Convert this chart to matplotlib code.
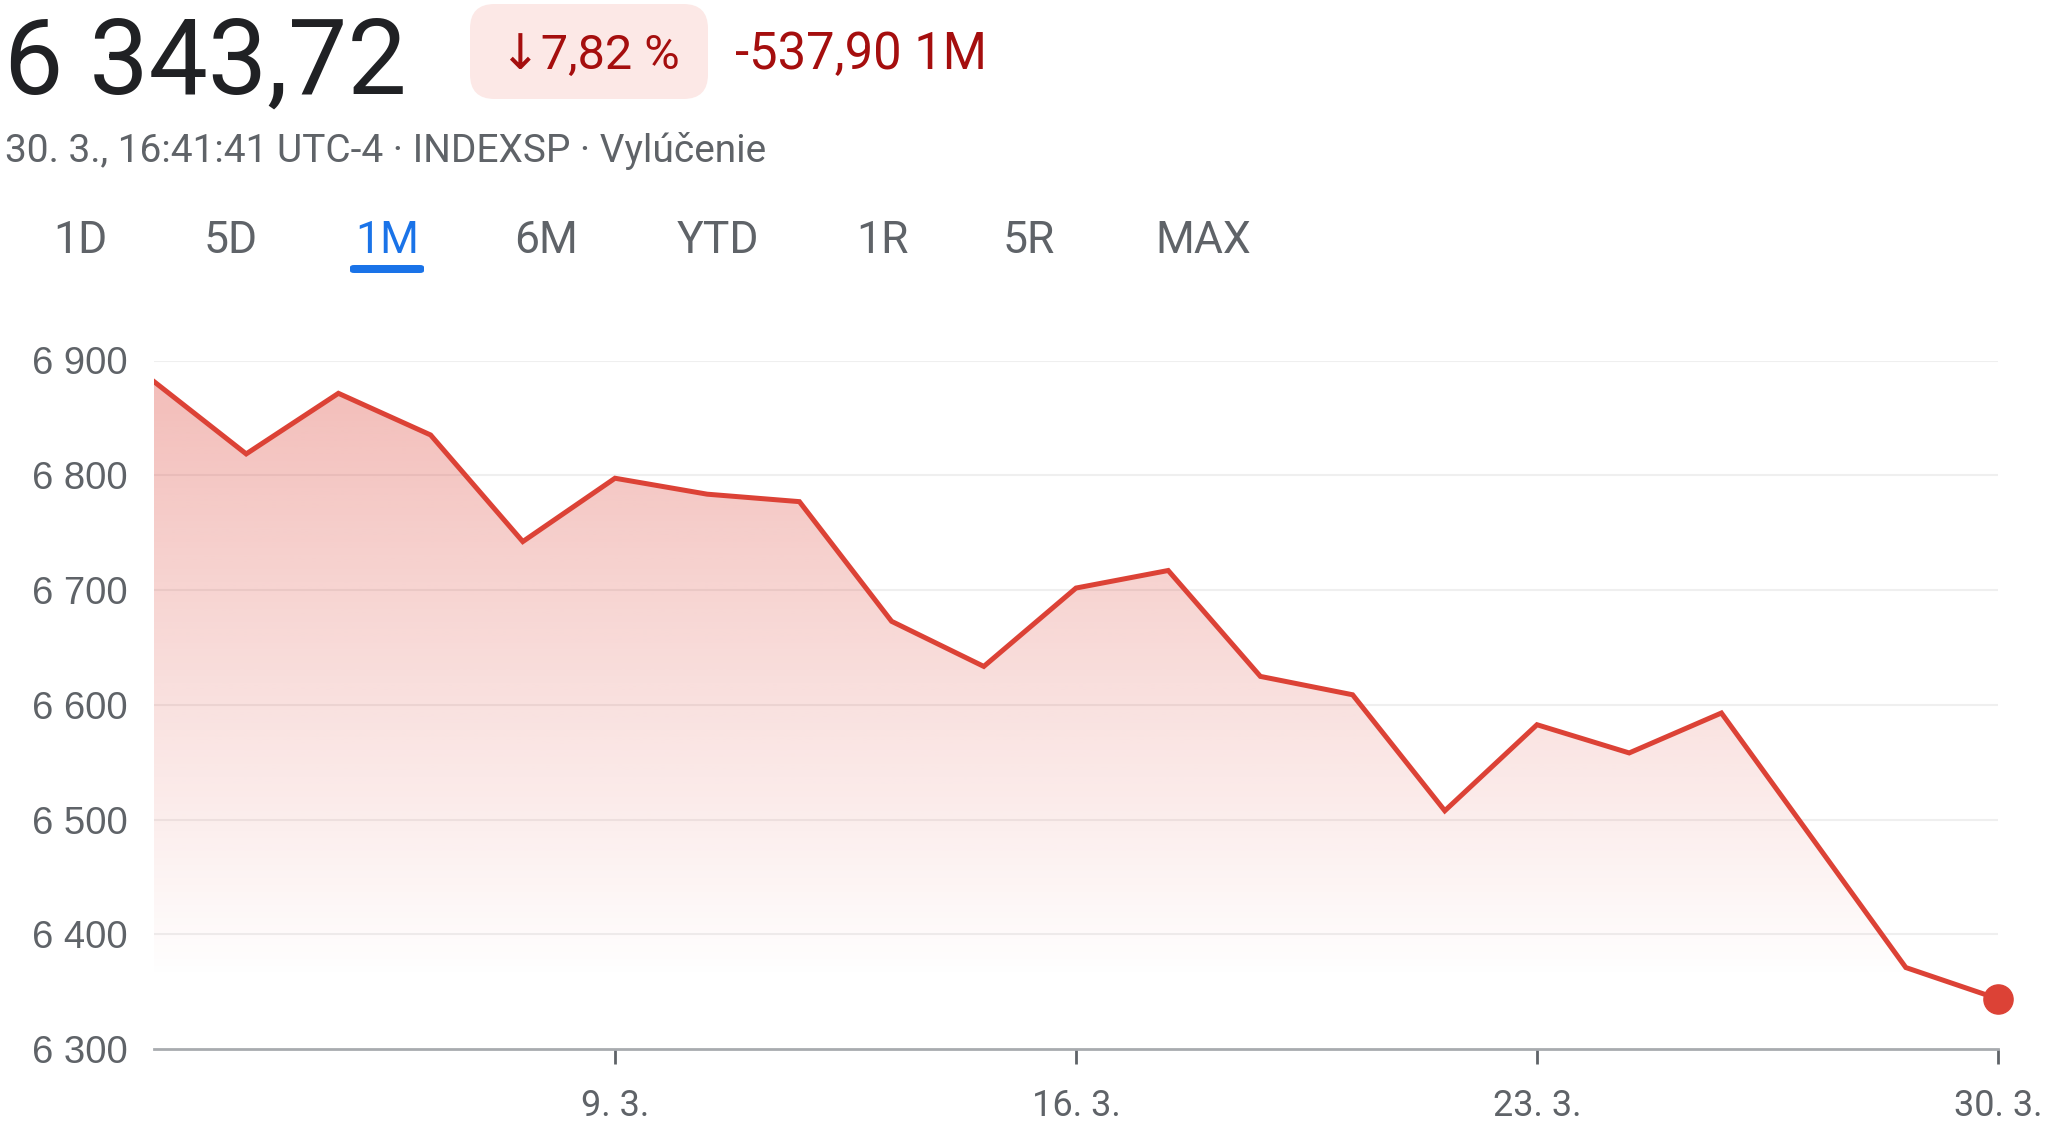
"""Recreate the 1M index chart (Slovak locale quote panel) as out.png."""

import matplotlib
matplotlib.use("Agg")
import matplotlib.pyplot as plt
import numpy as np
from matplotlib.patches import FancyBboxPatch, Polygon
from matplotlib.colors import to_rgb

W, H = 2048, 1144

# trading days 2.3. .. 30.3.
day_index = list(range(21))
close_values = [
    6881.62, 6818.6, 6871.4, 6835.1, 6742.2,
    6797.4, 6783.5, 6777.0, 6672.7, 6633.4,
    6701.7, 6717.0, 6624.7, 6608.7, 6507.6,
    6582.6, 6558.0, 6592.8, 6482.0, 6371.0,
    6343.72,
]
tick_positions = [5, 10, 15, 20]
tick_labels = ["9. 3.", "16. 3.", "23. 3.", "30. 3."]
y_ticks = [6300, 6400, 6500, 6600, 6700, 6800, 6900]
y_tick_labels = ["6 300", "6 400", "6 500", "6 600", "6 700", "6 800", "6 900"]

price_text = "6 343,72"
pct_text = "\u21937,82 %"
change_text = "-537,90 1M"
subtitle_text = "30. 3., 16:41:41 UTC-4 \u00b7 INDEXSP \u00b7 Vylúčenie"
tabs = ["1D", "5D", "1M", "6M", "YTD", "1R", "5R", "MAX"]
active_tab = "1M"

RED = "#DC4236"
DARK_RED = "#A50E0E"
TEXT = "#202124"
GRAY = "#5F6368"
BLUE = "#1A73E8"
SANS = ["Roboto", "DejaVu Sans"]


def fx(px):
    return px / W


def fy(py):
    return 1 - py / H


def draw_header(fig):
    fig.text(fx(4), fy(94), price_text, fontsize=76, color=TEXT,
             family=SANS, va="baseline", ha="left")

    badge = FancyBboxPatch((fx(470), fy(99)), fx(238), 95 / H,
                           boxstyle="round,pad=0,rounding_size=0.012",
                           transform=fig.transFigure, facecolor="#FCE8E6",
                           edgecolor="none", mutation_aspect=W / H)
    fig.patches.append(badge)
    fig.text(fx(590), fy(69), pct_text, fontsize=35, color=DARK_RED,
             family=SANS, va="baseline", ha="center")
    fig.text(fx(735), fy(69), change_text, fontsize=36.5, color=DARK_RED,
             family=SANS, va="baseline", ha="left")

    fig.text(fx(5), fy(162), subtitle_text, fontsize=28, color=GRAY,
             family=SANS, va="baseline", ha="left")

    tab_x = [80, 231, 387, 546, 718, 882, 1029, 1203]
    for label, x in zip(tabs, tab_x):
        color = BLUE if label == active_tab else GRAY
        fig.text(fx(x), fy(253), label, fontsize=32, color=color,
                 family=SANS, va="baseline", ha="center")
        if label == active_tab:
            bar = FancyBboxPatch((fx(x - 37), fy(273)), fx(74), 8 / H,
                                 boxstyle="round,pad=0,rounding_size=0.002",
                                 transform=fig.transFigure, facecolor=BLUE,
                                 edgecolor="none")
            fig.patches.append(bar)


def draw_chart(fig):
    ax = fig.add_axes([fx(154), fy(1049), fx(1998 - 154), (1049 - 360.5) / H])
    ax.set_xlim(0, 20)
    ax.set_ylim(6300, 6900)

    for s in ["top", "right", "left"]:
        ax.spines[s].set_visible(False)
    ax.spines["bottom"].set_color("#A8ABAF")
    ax.spines["bottom"].set_linewidth(2)

    for y in y_ticks[1:]:
        ax.axhline(y, color="#EFEFEF", linewidth=1.5, zorder=0)

    # gradient fill under the line
    rgb = to_rgb(RED)
    grad = np.zeros((256, 2, 4))
    grad[:, :, :3] = rgb
    alpha = np.clip(np.linspace(0.36, -0.04, 256), 0, None)
    grad[:, :, 3] = alpha[:, None]
    img = ax.imshow(grad, extent=[0, 20, 6300, 6900], aspect="auto",
                    origin="upper", zorder=1, interpolation="bilinear")
    verts = [(0, 6300)] + list(zip(day_index, close_values)) + [(20, 6300)]
    clip = Polygon(verts, closed=True, transform=ax.transData)
    img.set_clip_path(clip)

    ax.plot(day_index, close_values, color=RED, linewidth=3.6, zorder=3,
            solid_joinstyle="miter")
    ax.plot(day_index[-1], close_values[-1], "o", color=RED, markersize=21,
            zorder=4, clip_on=False)

    ax.set_xticks(tick_positions)
    ax.set_xticklabels(tick_labels, fontsize=26, color=GRAY, family=SANS)
    ax.tick_params(axis="x", length=11, width=2, color="#5F6368", pad=17)

    ax.set_yticks(y_ticks)
    ax.set_yticklabels(y_tick_labels, fontsize=27.5, color=GRAY,
                       family=["Liberation Sans", "DejaVu Sans"])
    ax.tick_params(axis="y", length=0, pad=19)
    ax.set_facecolor("white")


def main():
    fig = plt.figure(figsize=(W / 100, H / 100), dpi=100)
    fig.patch.set_facecolor("white")
    draw_header(fig)
    draw_chart(fig)
    fig.savefig("out.png", dpi=100, facecolor="white")
    plt.close(fig)


if __name__ == "__main__":
    main()
